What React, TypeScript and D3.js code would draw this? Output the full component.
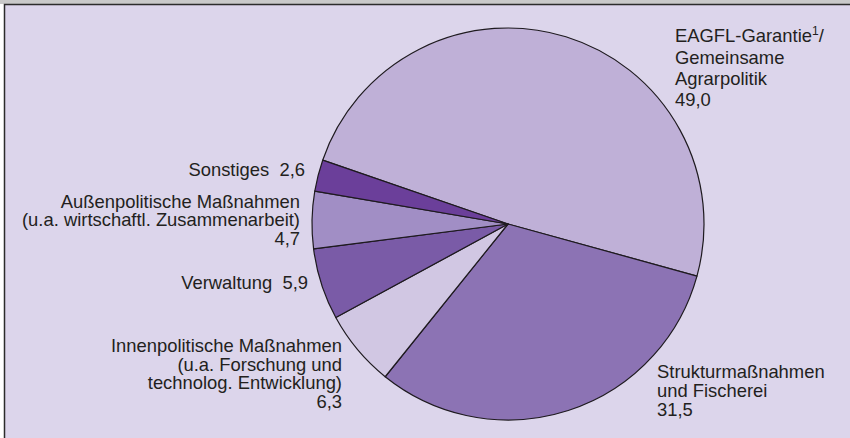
import React from "react";
import * as d3 from "d3";

const categories = [
  "EAGFL-Garantie",
  "Strukturmaßnahmen und Fischerei",
  "Innenpolitische Maßnahmen",
  "Verwaltung",
  "Außenpolitische Maßnahmen",
  "Sonstiges",
];
const values = [49.0, 31.5, 6.3, 5.9, 4.7, 2.6];
const colors = ["#bfb0d7", "#8c73b4", "#d1c7e3", "#7a5ba7", "#a18ec5", "#6b3f9a"];

// German decimal format
const fmt = (v: number) => v.toFixed(1).replace(".", ",");

const width = 850;
const height = 438;
const cx = 508;
const cy = 224;
const radius = 196;
const startDeg = -71;

const font = "'Liberation Sans', Arial, Helvetica, sans-serif";
const textColor = "#231f20";

export default function App() {
  const pie = d3
    .pie<number>()
    .sort(null)
    .value((d) => d)
    .startAngle((startDeg * Math.PI) / 180)
    .endAngle((startDeg * Math.PI) / 180 + 2 * Math.PI);
  const arc = d3.arc<d3.PieArcDatum<number>>().innerRadius(0).outerRadius(radius);
  const arcs = pie(values);

  const ts = { fontFamily: font, fontSize: 18.4, fill: textColor };

  return (
    <svg
      width={width}
      height={height}
      style={{ position: "absolute", left: 0, top: 0, display: "block" }}
    >
      <rect x={0} y={0} width={width} height={height} fill="#ffffff" />
      <rect x={0} y={0} width={width} height={4} fill="#c9c9c9" />
      <rect x={4.5} y={4.5} width={width + 10} height={height + 10} fill="#dcd5eb" stroke="#2b2b2b" strokeWidth={1.5} />

      <g transform={`translate(${cx},${cy})`}>
        {arcs.map((a, i) => (
          <path key={categories[i]} d={arc(a) || ""} fill={colors[i]} stroke="#1e1a1f" strokeWidth={1.2} strokeLinejoin="round" />
        ))}
      </g>

      {/* EAGFL */}
      <text {...ts} x={675} y={42}>
        EAGFL-Garantie
        <tspan fontSize={12} dy={-7}>1</tspan>
        <tspan dy={7}>/</tspan>
      </text>
      <text {...ts} x={675} y={63.5}>Gemeinsame</text>
      <text {...ts} x={675} y={84.5}>Agrarpolitik</text>
      <text {...ts} x={675} y={105.5}>{fmt(values[0])}</text>

      {/* Struktur */}
      <text {...ts} x={657} y={378}>Strukturmaßnahmen</text>
      <text {...ts} x={657} y={397}>und Fischerei</text>
      <text {...ts} x={657} y={415.5}>{fmt(values[1])}</text>

      <g textAnchor="end">
        <text {...ts} x={342} y={352}>Innenpolitische Maßnahmen</text>
        <text {...ts} x={342} y={370.5}>(u.a. Forschung und</text>
        <text {...ts} x={342} y={389}>technolog. Entwicklung)</text>
        <text {...ts} x={342} y={407.5}>{fmt(values[2])}</text>

        <text {...ts} x={308} y={288.5} xmlSpace="preserve">{`Verwaltung  ${fmt(values[3])}`}</text>

        <text {...ts} x={300} y={207.5}>Außenpolitische Maßnahmen</text>
        <text {...ts} x={300} y={226}>(u.a. wirtschaftl. Zusammenarbeit)</text>
        <text {...ts} x={300} y={244.5}>{fmt(values[4])}</text>

        <text {...ts} x={305} y={176} xmlSpace="preserve">{`Sonstiges  ${fmt(values[5])}`}</text>
      </g>
    </svg>
  );
}
